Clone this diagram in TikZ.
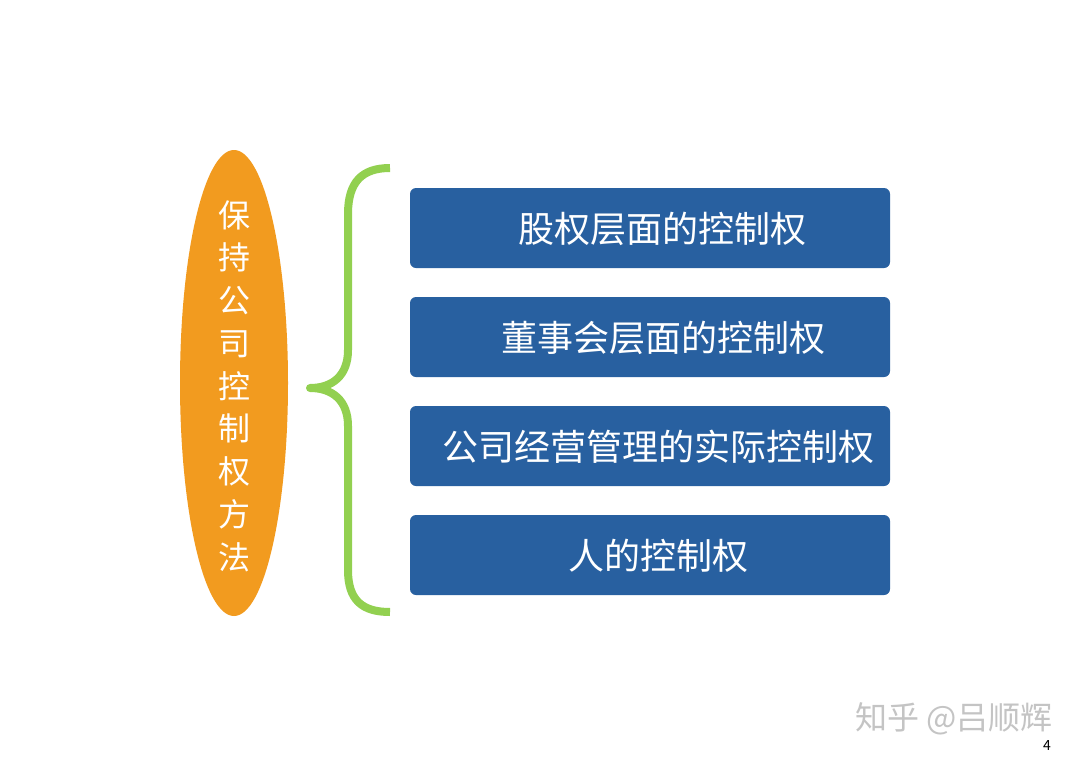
\documentclass[tikz,border=0pt]{standalone}
\usepackage{fontspec}
\usetikzlibrary{shapes.geometric}
\setmainfont{Noto Sans CJK SC}
\newfontfamily\cjk{Noto Sans CJK SC}
\definecolor{ovalorange}{HTML}{F29B1F}
\definecolor{boxblue}{HTML}{2860A0}
\definecolor{bracegreen}{HTML}{92D050}
\definecolor{markgray}{HTML}{C4C4C4}
\begin{document}
\begin{tikzpicture}[x=1pt,y=-1pt,
  itembox/.style={draw=none,fill=boxblue,rounded corners=6pt,minimum width=480pt,minimum height=80pt,inner sep=0pt},
  itemtext/.style={text=white,font=\cjk\fontsize{36}{40}\selectfont,inner sep=0pt,anchor=center},
  ovalshape/.style={ellipse,fill=ovalorange,minimum width=108pt,minimum height=466pt,inner sep=0pt},
  bracepath/.style={draw=bracegreen,line width=8pt,line cap=butt,line join=round}]
\useasboundingbox (0,0) rectangle (1080,766);
\fill[white] (0,0) rectangle (1080,766);
% oval
\node[ovalshape] (oval) at (234,383) {};
\node[text=white,font=\cjk\fontsize{32}{42.75}\selectfont,align=center,inner sep=0pt] (ovaltext) at (234,386)
  {保\\持\\公\\司\\控\\制\\权\\方\\法};
% brace
\coordinate (bt) at (390,168);
\coordinate (bm) at (310,388);
\coordinate (bb) at (390,612);
\draw[bracepath] (bt) .. controls (362,168) and (348,182) .. (348,214) -- (348,350)
  .. controls (348,376) and (332,388) .. (bm)
  .. controls (332,388) and (348,400) .. (348,426) -- (348,570)
  .. controls (348,600) and (362,612) .. (bb);
% boxes
\node[itembox] (b1) at (650,228) {};
\node[itembox] (b2) at (650,337) {};
\node[itembox] (b3) at (650,446) {};
\node[itembox] (b4) at (650,555) {};
\node[itemtext] (t1) at (662,229) {股权层面的控制权};
\node[itemtext] (t2) at (663,338) {董事会层面的控制权};
\node[itemtext] (t3) at (658,447) {公司经营管理的实际控制权};
\node[itemtext] (t4) at (658,556) {人的控制权};
% watermark and page number
\node[text=markgray,font=\cjk\fontsize{32}{34}\selectfont,inner sep=0pt,anchor=east] (wm) at (1053,719) {知乎 @吕顺辉};
\node[text=black,font=\fontsize{14}{16}\selectfont,inner sep=0pt] (pg) at (1047,746) {4};
\end{tikzpicture}
\end{document}
